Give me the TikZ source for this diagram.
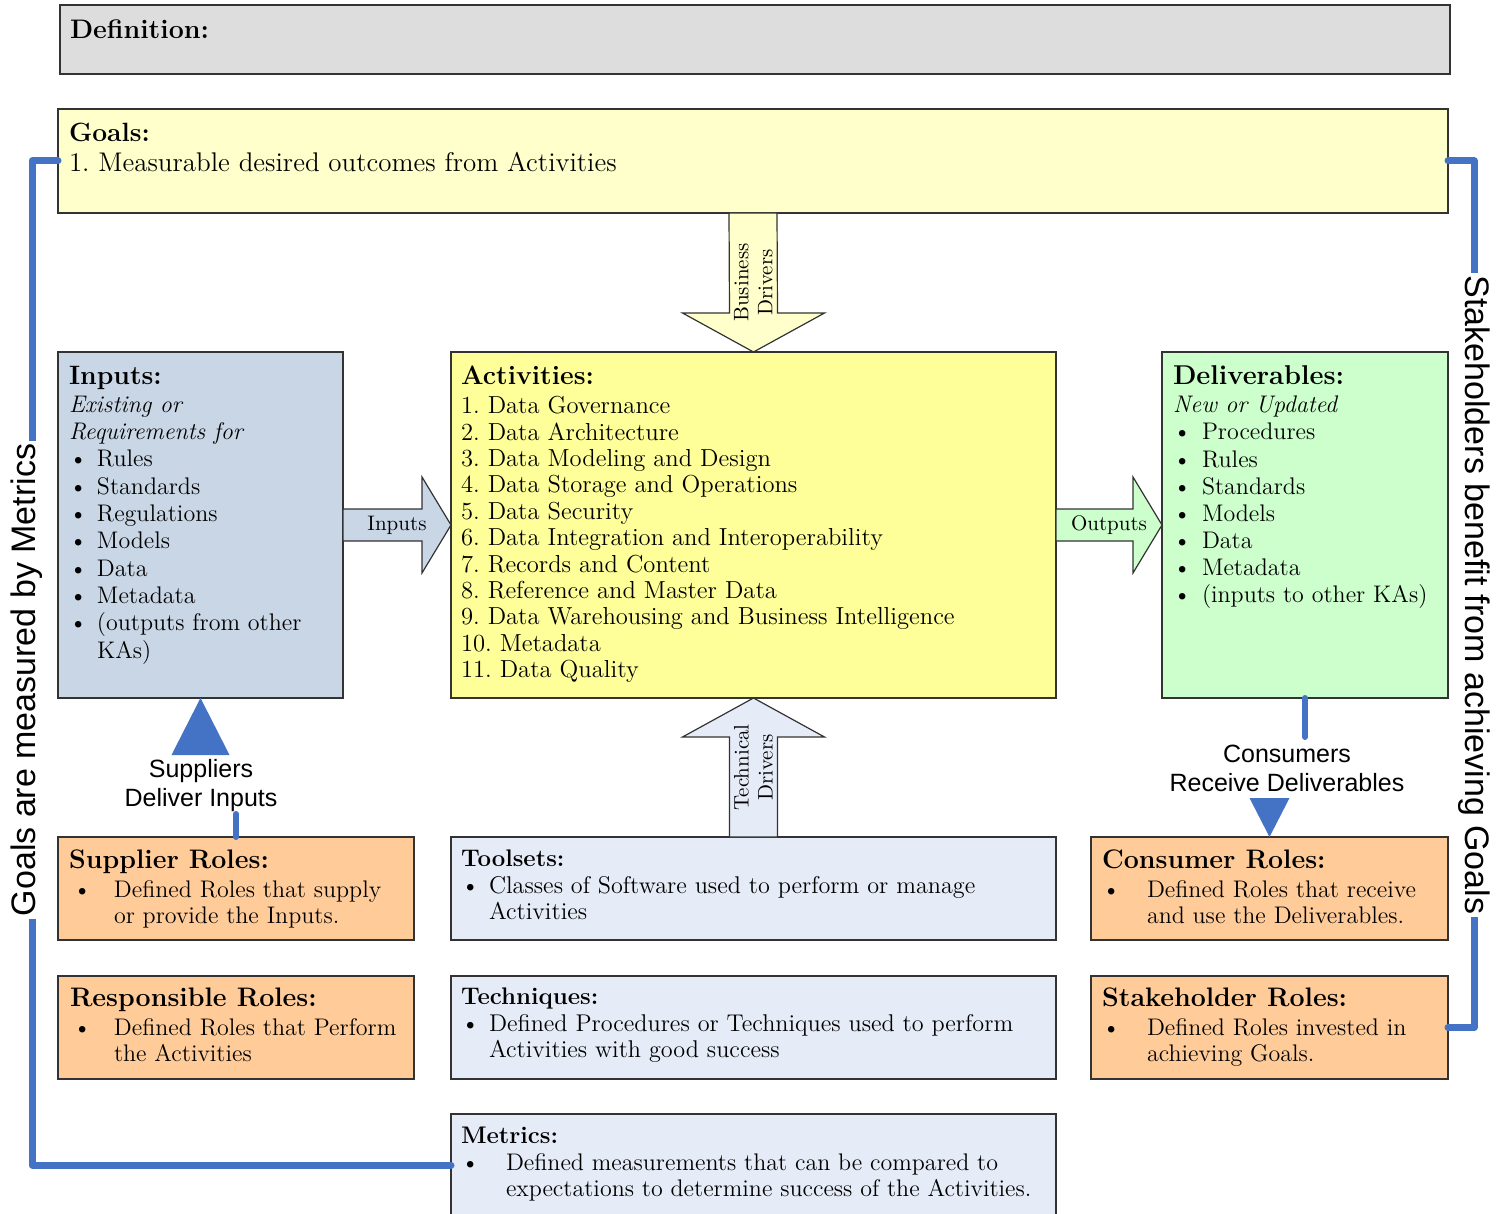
\documentclass[tikz,border=0pt]{standalone}
\usepackage{fontspec}
\newfontfamily\lsans{Liberation Sans}
\usetikzlibrary{calc}
\definecolor{cblue}{HTML}{4472C4}
\definecolor{cdef}{HTML}{DDDDDD}
\definecolor{cgoal}{HTML}{FFFFCC}
\definecolor{cact}{HTML}{FFFF99}
\definecolor{cin}{HTML}{C9D6E6}
\definecolor{cdel}{HTML}{CCFFCC}
\definecolor{crole}{HTML}{FFCC99}
\definecolor{ctool}{HTML}{E6ECF7}
\frenchspacing
\newcommand{\bitem}[2]{\hspace*{#1}\makebox[#2][l]{\textbullet}}
\newcommand{\hdtext}[1]{{\fontsize{13.3}{13}\selectfont\bfseries #1}}
\newcommand{\hdrole}[1]{{\fontsize{13.4}{13}\selectfont\bfseries #1}}
\newcommand{\hdsmall}[1]{{\fontsize{12}{13}\selectfont\bfseries #1}}
\begin{document}
\begin{tikzpicture}[x=0.5pt,y=-0.5pt,
  box/.style={draw=black!80,line width=0.6pt,anchor=north west,inner sep=0pt,outer sep=0pt},
  txt/.style={anchor=north west,inner sep=0pt,outer sep=0pt,align=left},
  conn/.style={draw=cblue,line width=3.5pt,line cap=round,line join=round},
  stub/.style={draw=cblue,line width=3pt,line cap=round},
  blk/.style={draw=black!80,line width=0.6pt,line join=miter},
  lbl/.style={font=\lsans\fontsize{12.5}{14.5}\selectfont,align=center,inner sep=0pt},
  side/.style={font=\lsans\fontsize{17}{20}\selectfont,fill=white,inner sep=1.5pt},
  arr/.style={font=\fontsize{10.5}{12}\selectfont,align=center,inner sep=0pt}
]
\useasboundingbox (0,0) rectangle (1500,1214);

% boxes
\node[box,fill=cdef,minimum width=695pt,minimum height=34.5pt] (def) at (60,5) {};
\node[box,fill=cgoal,minimum width=695pt,minimum height=52pt] (goals) at (58,109) {};
\node[box,fill=cin,minimum width=142.5pt,minimum height=173pt] (inp) at (58,352) {};
\node[box,fill=cact,minimum width=302.5pt,minimum height=173pt] (act) at (451,352) {};
\node[box,fill=cdel,minimum width=143pt,minimum height=173pt] (del) at (1162,352) {};
\node[box,fill=crole,minimum width=178pt,minimum height=51.5pt] (supr) at (58,837) {};
\node[box,fill=ctool,minimum width=302.5pt,minimum height=51.5pt] (tools) at (451,837) {};
\node[box,fill=crole,minimum width=178.5pt,minimum height=51.5pt] (consr) at (1091,837) {};
\node[box,fill=crole,minimum width=178pt,minimum height=51.5pt] (respr) at (58,976) {};
\node[box,fill=ctool,minimum width=302.5pt,minimum height=51.5pt] (tech) at (451,976) {};
\node[box,fill=crole,minimum width=178.5pt,minimum height=51.5pt] (staker) at (1091,976) {};
\node[box,fill=ctool,minimum width=302.5pt,minimum height=51pt] (metr) at (451,1114) {};

% block arrows
\draw[blk,fill=cgoal] ($(goals.south)+(-24,0)$) -- ($(goals.south)+(24,0)$) -- ($(act.north)+(24,-39)$) -- ($(act.north)+(71,-39)$) -- (act.north) -- ($(act.north)+(-71,-39)$) -- ($(act.north)+(-24,-39)$) -- cycle;
\draw[blk,fill=ctool] ($(tools.north)+(-24,0)$) -- ($(act.south)+(-24,39)$) -- ($(act.south)+(-71,39)$) -- (act.south) -- ($(act.south)+(71,39)$) -- ($(act.south)+(24,39)$) -- ($(tools.north)+(24,0)$) -- cycle;
\draw[blk,fill=cin] ($(inp.east)+(0,-16)$) -- ($(act.west)+(-29,-16)$) -- ($(act.west)+(-29,-48)$) -- (act.west) -- ($(act.west)+(-29,48)$) -- ($(act.west)+(-29,16)$) -- ($(inp.east)+(0,16)$) -- cycle;
\draw[blk,fill=cdel] ($(act.east)+(0,-16)$) -- ($(del.west)+(-29,-16)$) -- ($(del.west)+(-29,-48)$) -- (del.west) -- ($(del.west)+(-29,48)$) -- ($(del.west)+(-29,16)$) -- ($(act.east)+(0,16)$) -- cycle;

\node[arr,rotate=90] (bdrv) at ($(goals.south)!0.5!(act.north)$) {Business\\Drivers};
\node[arr,rotate=90] (tdrv) at ($(act.south)!0.5!(tools.north)$) {Technical\\Drivers};
\node[arr] (inlbl) at ($(inp.east)!0.5!(act.west)$) {Inputs};
\node[arr] (outlbl) at ($(act.east)!0.5!(del.west)$) {Outputs};

% suppliers / consumers
\fill[cblue] (inp.south) -- ++(29,57) -- ++(-58,0) -- cycle;
\draw[stub] (supr.north) -- ++(0,-23);
\node[lbl] (supl) at (201,786) {Suppliers\\Deliver Inputs};
\draw[stub] (del.south) -- ++(0,39);
\fill[cblue] (consr.north) -- ++(20,-39) -- ++(-40,0) -- cycle;
\node[lbl] (consl) at (1287,768) {Consumers\\Receive Deliverables};

% side connectors
\draw[conn] (goals.west) -- ++(-26,0) |- (metr.west);
\draw[conn] (goals.east) -- ++(26,0) |- (staker.east);
\node[side,rotate=90] (lmet) at (27,680) {Goals are measured by Metrics};
\node[side,rotate=-90] (rstake) at (1474,595) {Stakeholders benefit from achieving Goals};

% texts
\node[txt,font=\fontsize{13.4}{15}\selectfont\bfseries] (deft) at (70,20) {Definition:};
\node[txt,font=\fontsize{13.5}{15}\selectfont] (goalt) at (69,123) {\textbf{\fontsize{13.2}{15}\selectfont Goals:}\\1. Measurable desired outcomes from Activities};
\node[txt,font=\fontsize{12}{13.67}\selectfont] (inpt) at (69,366) {\hdtext{Inputs:}\\[0.3pt]
\textit{Existing or}\\
\textit{Requirements for}\\
\bitem{0pt}{14pt}Rules\\
\bitem{0pt}{14pt}Standards\\
\bitem{0pt}{14pt}Regulations\\
\bitem{0pt}{14pt}Models\\
\bitem{0pt}{14pt}Data\\
\bitem{0pt}{14pt}Metadata\\
\bitem{0pt}{14pt}(outputs from other\\
\hspace*{14pt}KAs)};
\node[txt,font=\fontsize{12.3}{13.2}\selectfont] (actt) at (461,366) {\hdtext{Activities:}\\[1.3pt]
1. Data Governance\\
2. Data Architecture\\
3. Data Modeling and Design\\
4. Data Storage and Operations\\
5. Data Security\\
6. Data Integration and Interoperability\\
7. Records and Content\\
8. Reference and Master Data\\
9. Data Warehousing and Business Intelligence\\
10. Metadata\\
11. Data Quality};
\node[txt,font=\fontsize{12}{13.57}\selectfont] (delt) at (1173,366) {{\fontsize{13.6}{13}\selectfont\bfseries Deliverables:}\\[0.4pt]
\textit{New or Updated}\\
\bitem{0pt}{14.5pt}Procedures\\
\bitem{0pt}{14.5pt}Rules\\
\bitem{0pt}{14.5pt}Standards\\
\bitem{0pt}{14.5pt}Models\\
\bitem{0pt}{14.5pt}Data\\
\bitem{0pt}{14.5pt}Metadata\\
\bitem{0pt}{14.5pt}(inputs to other KAs)};
\node[txt,font=\fontsize{12}{13}\selectfont] (suprt) at (69,850) {\hdrole{Supplier Roles:}\\[1.5pt]
\bitem{2pt}{20.5pt}Defined Roles that supply\\
\hspace*{22.5pt}or provide the Inputs.};
\node[txt,font=\fontsize{12}{13}\selectfont] (respt) at (70,988) {\hdrole{Responsible Roles:}\\[1.5pt]
\bitem{1.5pt}{20.5pt}Defined Roles that Perform\\
\hspace*{22pt}the Activities};
\node[txt,font=\fontsize{12}{13}\selectfont] (const) at (1102,850) {\hdrole{Consumer Roles:}\\[1.5pt]
\bitem{0pt}{22.5pt}Defined Roles that receive\\
\hspace*{22.5pt}and use the Deliverables.};
\node[txt,font=\fontsize{12}{13}\selectfont] (staket) at (1102,988) {\hdrole{Stakeholder Roles:}\\[1.5pt]
\bitem{0pt}{22.5pt}Defined Roles invested in\\
\hspace*{22.5pt}achieving Goals.};
\node[txt,font=\fontsize{12.1}{13}\selectfont] (toolt) at (461,850) {\hdsmall{Toolsets:}\\[0.5pt]
\bitem{0pt}{14pt}Classes of Software used to perform or manage\\
\hspace*{14pt}Activities};
\node[txt,font=\fontsize{12.1}{13}\selectfont] (techt) at (461,988) {\hdsmall{Techniques:}\\[0.5pt]
\bitem{0pt}{14pt}Defined Procedures or Techniques used to perform\\
\hspace*{14pt}Activities with good success};
\node[txt,font=\fontsize{12}{13}\selectfont] (metrt) at (461,1127) {\hdsmall{Metrics:}\\[0.5pt]
\bitem{0pt}{22.5pt}Defined measurements that can be compared to\\
\hspace*{22.5pt}expectations to determine success of the Activities.};
\end{tikzpicture}
\end{document}
